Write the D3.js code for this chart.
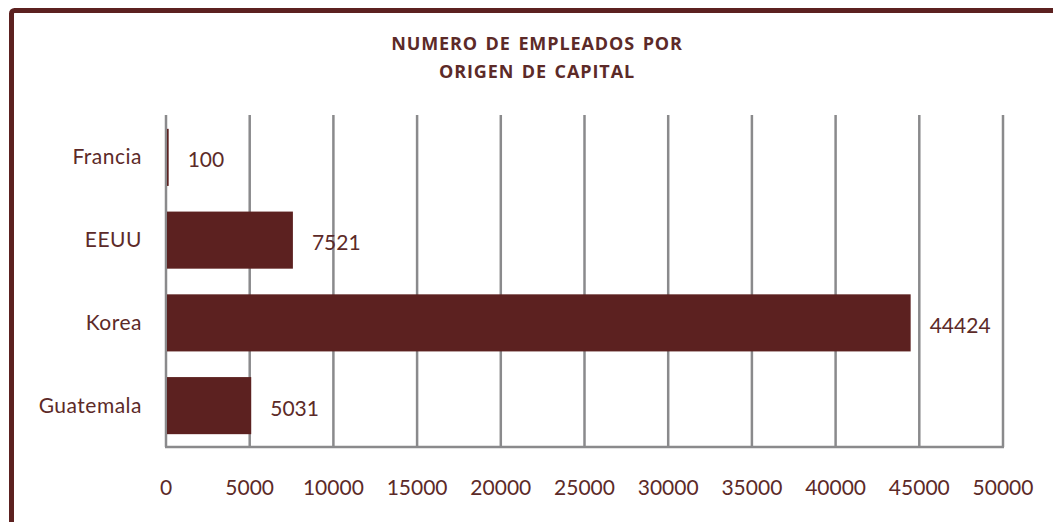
<!DOCTYPE html>
<html>
<head>
<meta charset="utf-8">
<script src="https://cdn.jsdelivr.net/npm/d3@7"></script>
<style>
body { margin: 0; background: #fff; }
text { font-family: "Lato", "Open Sans", sans-serif; }
text.title { font-family: "Open Sans", sans-serif; }
</style>
</head>
<body>
<script>
var width = 1053, height = 522;

var categories = ["Francia", "EEUU", "Korea", "Guatemala"];
var values = [100, 7521, 44424, 5031];
var ticks = [0, 5000, 10000, 15000, 20000, 25000, 30000, 35000, 40000, 45000, 50000];
var titleLines = ["NUMERO DE EMPLEADOS POR", "ORIGEN DE CAPITAL"];

var barColor = "#5c2120";
var textColor = "#5c2a28";
var gridColor = "#8a8a8c";

var svg = d3.select("body")
.append("svg")
.attr("width", width)
.attr("height", height)
.attr("id","svg");

// frame
svg.append("rect")
.attr("x", 11.5).attr("y", 10.5)
.attr("width", 1100).attr("height", 600)
.attr("rx", 3)
.attr("fill", "none")
.attr("stroke", barColor)
.attr("stroke-width", 5);

svg.selectAll(".title")
.data(titleLines)
.enter().append("text")
.attr("class","title")
.attr("x", 537)
.attr("y", function(d, i){ return 50 + i*28; })
.attr("text-anchor","middle")
.attr("font-size", 18)
.attr("font-weight","bold")
.attr("letter-spacing", 0.9)
.attr("word-spacing", 2)
.attr("fill", textColor)
.text(function(d){ return d; });

var x = d3.scaleLinear().domain([0, 50000]).range([166, 1003]);
var y = d3.scaleBand().domain(categories).range([116, 447]).paddingInner(0.31).paddingOuter(0.155);

// gridlines
svg.selectAll(".grid")
.data(ticks)
.enter().append("line")
.attr("class","grid")
.attr("x1", function(d){ return x(d); })
.attr("x2", function(d){ return x(d); })
.attr("y1", 115)
.attr("y2", 447)
.attr("stroke", gridColor)
.attr("stroke-width", 2.5);

svg.append("line")
.attr("x1", x(0) - 1).attr("x2", x(50000) + 1)
.attr("y1", 447).attr("y2", 447)
.attr("stroke", gridColor)
.attr("stroke-width", 2.5);

// bars
svg.selectAll(".bar")
.data(values)
.enter().append("rect")
.attr("class","bar")
.attr("x", x(0) + 1)
.attr("y", function(d, i){ return y(categories[i]); })
.attr("width", function(d){ return Math.max(1.5, x(d) - x(0)); })
.attr("height", y.bandwidth())
.attr("fill", barColor);

// value labels
svg.selectAll(".val")
.data(values)
.enter().append("text")
.attr("class","val")
.attr("x", function(d){ return x(d) + 20; })
.attr("y", function(d, i){ return y(categories[i]) + y.bandwidth()/2 + 10; })
.attr("font-size", 21)
.attr("fill", textColor)
.text(function(d){ return d; });

// category labels
svg.selectAll(".cat")
.data(categories)
.enter().append("text")
.attr("class","cat")
.attr("x", 142)
.attr("y", function(d){ return y(d) + y.bandwidth()/2 + 7; })
.attr("text-anchor","end")
.attr("font-size", 21)
.attr("letter-spacing", 0.5)
.attr("fill", textColor)
.text(function(d){ return d; });

// tick labels
svg.selectAll(".tick")
.data(ticks)
.enter().append("text")
.attr("class","tick")
.attr("x", function(d){ return x(d); })
.attr("y", 495)
.attr("text-anchor","middle")
.attr("font-size", 21)
.attr("fill", textColor)
.text(function(d){ return d; });
</script>
</body>
</html>
